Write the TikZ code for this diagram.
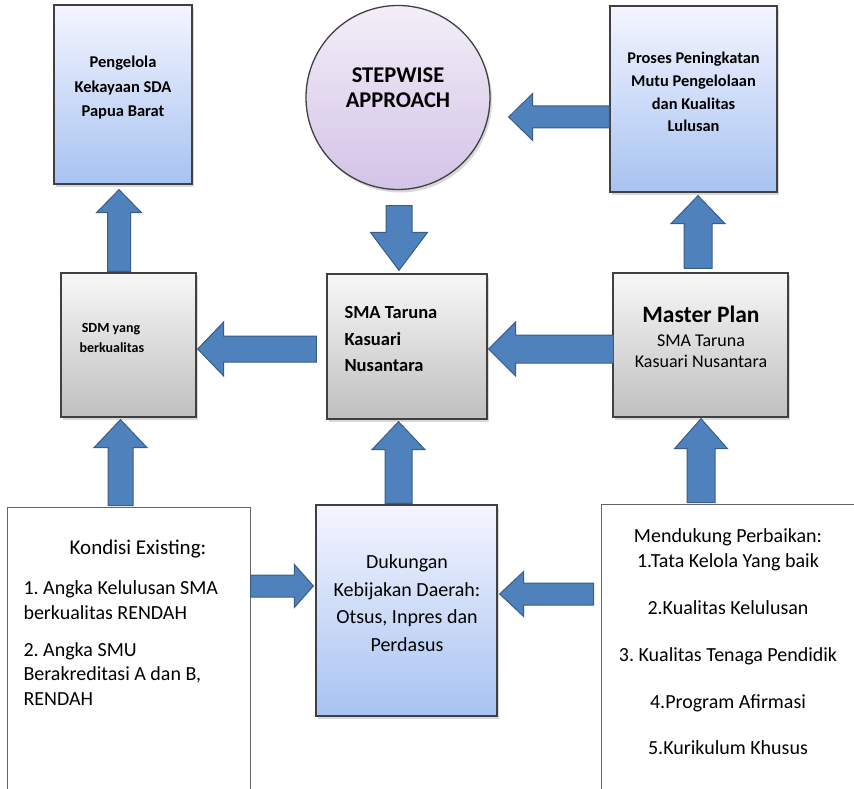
\documentclass[tikz,border=0pt]{standalone}
\usepackage{fontspec}
\setmainfont{Carlito}
\frenchspacing
\usetikzlibrary{calc,shadows}

\definecolor{arrowblue}{HTML}{4F81BD}
\definecolor{arrowline}{HTML}{385D8A}
\definecolor{edgegray}{HTML}{404040}

\tikzset{
    box/.style={draw=edgegray, line width=1.3pt, inner sep=0pt},
    shade/.style={drop shadow={shadow xshift=2pt, shadow yshift=-3pt, opacity=0.3}},
    bluebox/.style={box, shade, top color=blue!4!white, bottom color={rgb,255:red,167;green,195;blue,241}},
    graybox/.style={box, shade, top color=gray!6, bottom color=gray!50},
    whitebox/.style={draw=gray!80!black, line width=1pt, fill=white},
    bold/.style 2 args={font=\fontsize{#1}{#2}\selectfont\bfseries, align=center},
    plain/.style={font=\fontsize{20}{24.5}\selectfont, align=center},
    blockarrow/.style={fill=arrowblue, draw=arrowline, line width=1pt, line join=miter}
}

% tail, tip, half shaft, half head, head length
\newcommand\blockarrow[5]{%
    \coordinate (bt) at (#1);
    \coordinate (bp) at (#2);
    \coordinate (bh) at ($(bp)!#5pt!(bt)$);
    \filldraw[blockarrow] ($(bt)!#3pt!90:(bp)$) -- ($(bh)!#3pt!90:(bp)$) -- ($(bh)!#4pt!90:(bp)$)
        -- (bp) -- ($(bh)!#4pt!-90:(bp)$) -- ($(bh)!#3pt!-90:(bp)$) -- ($(bt)!#3pt!-90:(bp)$) -- cycle;}

\begin{document}
\begin{tikzpicture}[x=1pt, y=-1pt]
    \useasboundingbox (0,0) rectangle (854,789);
    \clip (0,0) rectangle (854,789);

    % top row
    \node[bluebox, minimum width=138pt, minimum height=179pt] (peng) at (123,94.5) {};
    \node[circle, box, shade, minimum size=184pt, top color={rgb,255:red,243;green,238;blue,248},
        bottom color={rgb,255:red,211;green,195;blue,231}] (circ) at (398,97.5) {};
    \node[bluebox, minimum width=167pt, minimum height=186pt] (proses) at (693.5,99) {};

    % middle row
    \node[graybox, minimum width=135pt, minimum height=144pt] (sdm) at (128.5,345) {};
    \node[graybox, minimum width=160pt, minimum height=145pt] (sma) at (407,346.5) {};
    \node[graybox, minimum width=175pt, minimum height=144pt] (master) at (700.5,345) {};

    % bottom row
    \node[whitebox, minimum width=243pt, minimum height=293pt] (kondisi) at (128.5,653.5) {};
    \node[bluebox, minimum width=181pt, minimum height=211pt] (dukungan) at (406.5,610.5) {};
    \node[whitebox, minimum width=299pt, minimum height=296pt] (mendukung) at (750.5,652) {};

    % texts
    \node[bold={16.5}{24.5}] (pengtxt) at (123,88) {Pengelola\\Kekayaan SDA\\Papua Barat};
    \node[bold={22.5}{25}] (circtxt) at (398,88) {STEPWISE\\APPROACH};
    \node[bold={16.4}{22.7}] (prosestxt) at (693.5,92) {Proses Peningkatan\\Mutu Pengelolaan\\dan Kualitas\\Lulusan};
    \node[bold={14}{20}, align=left, anchor=west] (sdmtxt) at (76,338) {\,SDM yang\\berkualitas};
    \node[bold={18.5}{26.5}, align=left, anchor=west] (smatxt) at (341,339) {SMA Taruna\\Kasuari\\Nusantara};
    \node[font=\fontsize{18}{21}\selectfont, align=center] (mastertxt) at (701,337)
        {{\fontsize{23.5}{28}\selectfont\bfseries Master Plan}\\[3pt]SMA Taruna\\Kasuari Nusantara};
    \node[plain, font=\fontsize{21}{24.5}\selectfont] (konhead) at (138,549) {Kondisi Existing:};
    \node[plain, align=left, anchor=west] (kontxt) at (20,643)
        {1. Angka Kelulusan SMA\\berkualitas RENDAH\\[12.5pt]2. Angka SMU\\Berakreditasi A dan B,\\RENDAH};
    \node[plain, font=\fontsize{20}{27.7}\selectfont] (dukungantxt) at (407,603) {Dukungan\\Kebijakan Daerah:\\Otsus, Inpres dan\\Perdasus};
    \node[plain, font=\fontsize{20}{25}\selectfont] (mendukungtxt) at (728,642)
        {Mendukung Perbaikan:\\1.Tata Kelola Yang baik\\[22pt]2.Kualitas Kelulusan\\[22pt]3. Kualitas Tenaga Pendidik\\[22pt]4.Program Afirmasi\\[21pt]5.Kurikulum Khusus};

    % arrows
    \blockarrow{$(sdm.north)+(-9.5,-1)$}{$(peng.south)+(-4,5)$}{11.5}{22.5}{23}
    \blockarrow{$(circ.south)+(1,15.5)$}{$(sma.north)+(-8,-3)$}{13}{28.5}{38}
    \blockarrow{$(proses.west)+(0,18)$}{$(circ.east)+(18,19.5)$}{11}{23.5}{24}
    \blockarrow{$(master.north)+(-2.5,-4)$}{$(proses.south)+(4.5,3)$}{14}{27}{28}
    \blockarrow{$(sma.west)+(-10,2.5)$}{$(sdm.east)+(1,4)$}{13}{27}{26}
    \blockarrow{$(master.west)+(1,4)$}{$(sma.east)+(1,2.5)$}{14}{27}{27}
    \blockarrow{$(kondisi.north)+(-8,-1)$}{$(sdm.south)+(-8,2)$}{12.5}{26.5}{28}
    \blockarrow{$(dukungan.north)+(-8,-1)$}{$(sma.south)+(-8.5,2)$}{13.5}{26.5}{28}
    \blockarrow{$(master.south |- mendukung.north)+(0.5,-1)$}{$(master.south)+(0.5,1)$}{14}{26.5}{30}
    \blockarrow{$(kondisi.east)+(0,-67.5)$}{$(dukungan.west)+(-2,-24.5)$}{11}{21.5}{19}
    \blockarrow{$(mendukung.west)+(-7,-58)$}{$(dukungan.east)+(2,-16.5)$}{11}{22.5}{24}
\end{tikzpicture}
\end{document}
